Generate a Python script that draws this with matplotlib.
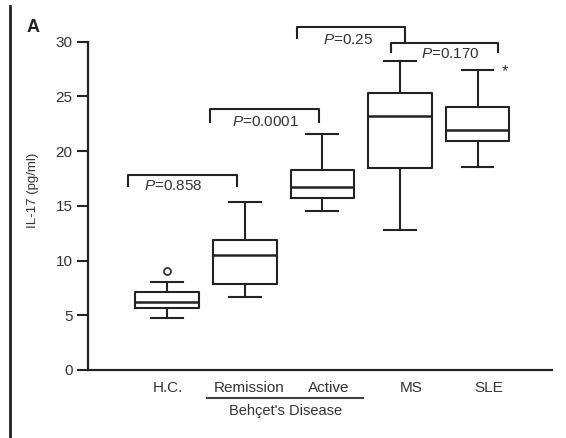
import matplotlib
matplotlib.use("Agg")
import matplotlib.pyplot as plt
from matplotlib.lines import Line2D
import matplotlib.transforms as mtransforms

plt.rcParams['font.family'] = ['Liberation Sans', 'DejaVu Sans']
plt.rcParams['mathtext.fontset'] = 'custom'
plt.rcParams['mathtext.rm'] = 'Liberation Sans'
plt.rcParams['mathtext.it'] = 'Liberation Sans:italic'

# box statistics (IL-17, pg/ml)
groups = ['H.C.', 'Remission', 'Active', 'MS', 'SLE']
whislo = [4.76, 6.64, 14.53, 12.8, 18.58]
q1 = [5.64, 7.83, 15.69, 18.43, 20.96]
med = [6.24, 10.51, 16.7, 23.2, 21.94]
q3 = [7.1, 11.85, 18.28, 25.35, 24.0]
whishi = [8.07, 15.35, 21.57, 28.2, 27.4]
fliers = [[9.08], [], [], [], []]

p_labels = ['P=0.858', 'P=0.0001', 'P=0.25', 'P=0.170']

txt = '#333333'
dark = '#222222'

fig = plt.figure(figsize=(5.66, 4.38), dpi=100)
ax = fig.add_axes([0.1555, 0.1553, 0.8198, 0.7495])

pos = [1, 2, 3, 4, 5]
stats = []
for i in range(len(groups)):
    stats.append(dict(whislo=whislo[i], q1=q1[i], med=med[i], q3=q3[i],
                      whishi=whishi[i], fliers=fliers[i], label=groups[i]))

lw = 1.5
ax.bxp(stats, positions=pos, widths=0.82, showfliers=True,
       boxprops=dict(color=dark, linewidth=lw),
       medianprops=dict(color=dark, linewidth=lw + 0.3),
       whiskerprops=dict(color=dark, linewidth=lw),
       capprops=dict(color=dark, linewidth=lw),
       flierprops=dict(marker='o', markersize=5, markerfacecolor='none',
                       markeredgecolor=txt, markeredgewidth=1.3))

ax.set_xlim(-0.02, 5.96)
ax.set_ylim(0, 30)
ax.set_yticks([0, 5, 10, 15, 20, 25, 30])
label_pos = [1.01, 2.05, 3.08, 4.14, 5.14]
ax.set_xticks(label_pos)
ax.set_xticklabels(groups)
ax.tick_params(axis='x', length=0, pad=8, labelsize=11, labelcolor=txt)
ax.tick_params(axis='y', length=8, width=1.5, pad=3, labelsize=11,
               labelcolor=txt, color=dark)
ax.spines['top'].set_visible(False)
ax.spines['right'].set_visible(False)
for s in ['left', 'bottom']:
    ax.spines[s].set_linewidth(1.6)
    ax.spines[s].set_color(dark)

# brackets with P values: left x, right x, top y, leg y, text x, text y
brackets = [(0.50, 1.90, 17.82, 16.75, 1.077, 16.85),
            (1.555, 2.96, 23.83, 22.55, 2.265, 22.7),
            (2.67, 4.07, 31.38, 30.26, 3.335, 30.2),
            (3.89, 5.27, 29.86, 28.95, 4.65, 28.9)]
for (x0, x1, ytop, yleg, tx, ty), lab in zip(brackets, p_labels):
    ax.plot([x0, x0, x1, x1], [yleg, ytop, ytop, yleg], color=dark,
            lw=1.5, clip_on=False, solid_capstyle='butt')
    ax.text(tx, ty, r'$\mathit{P}$' + lab[1:], ha='center', va='center',
            fontsize=11, color=txt, clip_on=False)
# P=0.25 right leg reaches down to the P=0.170 bracket
ax.plot([4.07, 4.07], [30.26, 29.86], color=dark, lw=1.5, clip_on=False)

ax.text(5.35, 27.3, '*', ha='center', va='center', fontsize=12, color=txt)

# Behcet's disease group label
trans = mtransforms.blended_transform_factory(ax.transData, ax.transAxes)
ax.add_line(Line2D([1.516, 3.529], [-0.085, -0.085], transform=trans,
                   color='#444444', lw=1.5, clip_on=False))
ax.text(2.52, -0.125, "Behçet's Disease", transform=trans, ha='center',
        va='center', fontsize=10.5, color=txt)

fig.text(33 / 566, 1 - 190 / 438, 'IL-17 (pg/ml)', rotation=90,
         ha='center', va='center', fontsize=9.5, color=txt)
fig.text(33 / 566, 1 - 27 / 438, 'A', ha='center', va='center',
         fontsize=13, fontweight='bold', color=dark)
fig.add_artist(Line2D([10 / 566, 10 / 566], [0, 1 - 6 / 438],
                      transform=fig.transFigure, color=dark, lw=2))

fig.savefig('out.png', dpi=100)
